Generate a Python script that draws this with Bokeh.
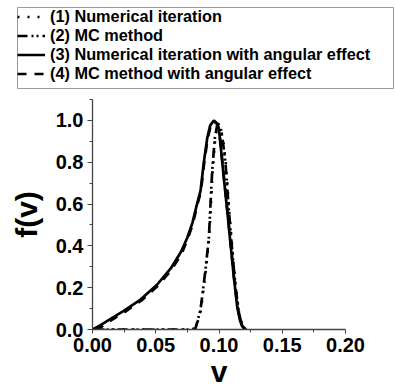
from bokeh.plotting import figure
from bokeh.layouts import column
from bokeh.models import Legend, LegendItem, FixedTicker, NumeralTickFormatter, Range1d
from bokeh.embed import file_html
from bokeh.resources import INLINE

# ---- data ----
labels = ["(1) Numerical iteration",
          "(2) MC method",
          "(3) Numerical iteration with angular effect",
          "(4) MC method with angular effect"]

v1 = [0.000, 0.040, 0.078, 0.0816, 0.0856, 0.0895, 0.0922, 0.0936, 0.0949, 0.0970,
      0.0990, 0.1010, 0.1032, 0.1053, 0.1080, 0.1106, 0.1132, 0.1158, 0.1185, 0.1212]
f1 = [0.000, 0.000, 0.000, 0.005, 0.090, 0.280, 0.440, 0.600, 0.755, 0.915,
      0.985, 0.975, 0.905, 0.800, 0.570, 0.380, 0.205, 0.080, 0.016, 0.000]

v2 = [0.000, 0.040, 0.078, 0.0814, 0.0854, 0.0893, 0.0920, 0.0933, 0.0946, 0.0967,
      0.0986, 0.1012, 0.1030, 0.1051, 0.1078, 0.1104, 0.1130, 0.1157, 0.1183, 0.1210]
f2 = [0.000, 0.000, 0.000, 0.005, 0.095, 0.284, 0.440, 0.600, 0.757, 0.915,
      0.978, 0.970, 0.900, 0.800, 0.568, 0.379, 0.205, 0.079, 0.016, 0.000]

v3 = [0.000, 0.006, 0.014, 0.025, 0.038, 0.051, 0.062, 0.070, 0.075, 0.079,
      0.0822, 0.0854, 0.0880, 0.0907, 0.0930, 0.0959, 0.0985, 0.1000, 0.1012, 0.1038,
      0.1065, 0.1091, 0.1117, 0.1144, 0.1165, 0.1183, 0.1210]
f3 = [0.000, 0.020, 0.050, 0.090, 0.143, 0.214, 0.293, 0.372, 0.440, 0.510,
      0.590, 0.663, 0.800, 0.915, 0.975, 1.000, 0.985, 0.955, 0.884, 0.726,
      0.568, 0.410, 0.252, 0.110, 0.045, 0.016, 0.000]

v4 = [0.002, 0.007, 0.015, 0.026, 0.039, 0.052, 0.063, 0.071, 0.0755, 0.0795,
      0.0825, 0.0857, 0.0883, 0.0910, 0.0933, 0.0961, 0.0987, 0.1002, 0.1014, 0.1040,
      0.1067, 0.1093, 0.1119, 0.1146, 0.1168, 0.1186, 0.1213]
f4 = [0.000, 0.012, 0.045, 0.086, 0.140, 0.211, 0.290, 0.370, 0.438, 0.508,
      0.588, 0.660, 0.798, 0.912, 0.972, 0.995, 0.982, 0.952, 0.880, 0.722,
      0.565, 0.405, 0.248, 0.108, 0.043, 0.014, 0.000]

x_ticks = [0.0, 0.05, 0.10, 0.15, 0.20]
x_minor = [0.025, 0.075, 0.125, 0.175]
y_ticks = [0.0, 0.2, 0.4, 0.6, 0.8, 1.0]
y_minor = [0.1, 0.3, 0.5, 0.7, 0.9, 1.1]

styles = [dict(line_dash="2 8"),
          dict(line_dash="10 4 2 3 2 4"),
          dict(line_dash="solid"),
          dict(line_dash="9 8")]

FONT = "Liberation Sans"

# ---- legend panel ----
top = figure(width=395, height=95, x_range=Range1d(0, 1), y_range=Range1d(0, 1),
             x_axis_type=None, y_axis_type=None, toolbar_location=None,
             output_backend="svg", min_border_left=17, min_border_right=2,
             min_border_top=7, min_border_bottom=7)
top.frame_align = False
top.grid.visible = False
top.outline_line_color = "#9a9a9a"
top.outline_line_width = 1

items = []
for lab, st in zip(labels, styles):
    r = top.line(x=[-5, -4], y=[-5, -4], line_color="black", line_width=2.5, **st)
    items.append(LegendItem(label=lab, renderers=[r]))
leg = Legend(items=items, location="top_left", margin=0, padding=1, spacing=0,
             glyph_width=28, glyph_height=19, label_height=19, label_standoff=5,
             border_line_color=None, background_fill_alpha=0,
             label_text_font=FONT, label_text_font_style="bold",
             label_text_font_size="16.3px", label_text_color="black")
top.add_layout(leg, "center")

# ---- main plot ----
p = figure(width=395, height=295, x_range=Range1d(0, 0.2), y_range=Range1d(0, 1.1),
           toolbar_location=None, output_backend="svg",
           min_border_left=92, min_border_right=50, min_border_top=4, min_border_bottom=58)
p.frame_align = False
p.grid.visible = False
p.outline_line_color = None

data = [(v1, f1), (v2, f2), (v3, f3), (v4, f4)]
for (vx, fy), st in zip(data, styles):
    p.line(vx, fy, line_color="black", line_width=2.7, **st)

p.xaxis.ticker = FixedTicker(ticks=x_ticks, minor_ticks=x_minor)
p.yaxis.ticker = FixedTicker(ticks=y_ticks, minor_ticks=y_minor)
p.xaxis.formatter = NumeralTickFormatter(format="0.00")
p.yaxis.formatter = NumeralTickFormatter(format="0.0")

for ax in (p.xaxis, p.yaxis):
    ax.axis_line_color = "#444444"
    ax.axis_line_width = 1.3
    ax.major_tick_line_color = "#444444"
    ax.minor_tick_line_color = "#444444"
    ax.major_tick_in = 0
    ax.minor_tick_in = 0
    ax.major_label_text_font = FONT
    ax.major_label_text_font_style = "bold"
    ax.major_label_text_font_size = "20px"
    ax.major_label_text_color = "black"
    ax.axis_label_text_font = FONT
    ax.axis_label_text_font_style = "bold"
    ax.axis_label_text_font_size = "30px"
    ax.axis_label_text_color = "black"

p.yaxis.major_tick_out = 5
p.yaxis.minor_tick_out = 3
p.xaxis.major_tick_out = 4
p.xaxis.minor_tick_out = 3
p.yaxis.major_label_standoff = 4
p.xaxis.major_label_standoff = 4
p.yaxis.axis_label = "f(v)"
p.xaxis.axis_label = "v"
p.yaxis.axis_label_standoff = 10
p.xaxis.axis_label_standoff = 0
p.xaxis.axis_label_text_line_height = 0.8

layout = column(top, p, spacing=0)
open("out.html", "w").write(file_html(layout, INLINE))
